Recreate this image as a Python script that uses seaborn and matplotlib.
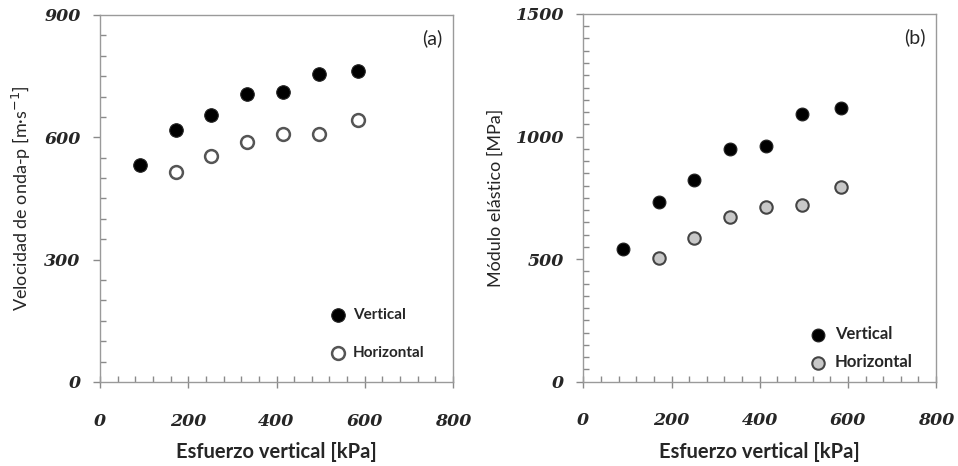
import numpy as np
import pandas as pd
import seaborn as sns
import matplotlib.pyplot as plt
from matplotlib.ticker import MultipleLocator

sns.set_style("white")
plt.rcParams['font.family'] = ['Lato', 'DejaVu Sans']

# data
esfuerzo = [90, 172, 252, 333, 414, 496, 584]
vel_vertical = [532, 619, 654, 706, 710, 755, 762]
vel_horizontal = [np.nan, 514, 554, 589, 609, 609, 642]
mod_vertical = [540, 731, 823, 950, 963, 1091, 1116]
mod_horizontal = [np.nan, 506, 588, 673, 713, 720, 793]

df = pd.DataFrame({'esfuerzo': esfuerzo,
                   'vel_v': vel_vertical, 'vel_h': vel_horizontal,
                   'mod_v': mod_vertical, 'mod_h': mod_horizontal})

fig = plt.figure(figsize=(9.58, 4.66), dpi=100)
ax1 = fig.add_axes([0.1044, 0.1803, 0.3685, 0.7876])
ax2 = fig.add_axes([0.6089, 0.1809, 0.3682, 0.7891])

tickfont = dict(family='DejaVu Serif', weight='bold', style='italic', size=12.5)

def style_axis(ax, ymax, ymajor, ylabel, tag):
    ax.set_xlim(0, 800)
    ax.set_ylim(0, ymax)
    ax.xaxis.set_major_locator(MultipleLocator(200))
    ax.xaxis.set_minor_locator(MultipleLocator(40))
    ax.yaxis.set_major_locator(MultipleLocator(ymajor))
    ax.yaxis.set_minor_locator(MultipleLocator(50))
    for s in ax.spines.values():
        s.set_color('#9a9a9a')
        s.set_linewidth(1.0)
    ax.tick_params(axis='x', which='major', direction='inout', length=8, width=1,
                   color='#8a8a8a', pad=18, bottom=True)
    ax.tick_params(axis='x', which='minor', direction='in', length=4, width=1,
                   color='#8a8a8a', bottom=True)
    ax.tick_params(axis='y', which='major', direction='out', length=5, width=1,
                   color='#8a8a8a', pad=9, left=True)
    ax.tick_params(axis='y', which='minor', direction='in', length=4, width=1,
                   color='#8a8a8a', left=True)
    for lab in ax.get_xticklabels() + ax.get_yticklabels():
        lab.set_fontproperties(tickfont)
    ax.set_xlabel('Esfuerzo vertical [kPa]', fontsize=14.5, fontweight='bold', labelpad=9)
    ax.set_ylabel(ylabel, fontsize=13, labelpad=8)
    ax.text(0.97, 0.96, tag, transform=ax.transAxes, ha='right', va='top', fontsize=14)

# (a)
sns.scatterplot(data=df, x='esfuerzo', y='vel_v', ax=ax1, s=95, color='black',
                edgecolor='#222222', linewidth=0.8, label='Vertical')
sns.scatterplot(data=df, x='esfuerzo', y='vel_h', ax=ax1, s=85, color='white',
                edgecolor='#555555', linewidth=1.8, label='Horizontal')
style_axis(ax1, 900, 300, 'Velocidad de onda-p [m·s$^{-1}$]', '(a)')
leg1 = ax1.legend(loc='lower left', bbox_to_anchor=(0.6, 0.03), frameon=False,
                  handletextpad=0.0, labelspacing=1.6, borderpad=0.2,
                  prop=dict(weight='bold', size=11))

# (b)
sns.scatterplot(data=df, x='esfuerzo', y='mod_v', ax=ax2, s=85, color='black',
                edgecolor='#222222', linewidth=0.8, label='Vertical')
sns.scatterplot(data=df, x='esfuerzo', y='mod_h', ax=ax2, s=80, color='#c8c8c8',
                edgecolor='#444444', linewidth=1.5, label='Horizontal')
style_axis(ax2, 1500, 500, 'Módulo elástico [MPa]', '(b)')
leg2 = ax2.legend(loc='lower left', bbox_to_anchor=(0.585, 0.0), frameon=False,
                  handletextpad=0.0, labelspacing=0.7, borderpad=0.2,
                  prop=dict(weight='bold', size=12))

fig.savefig('out.png', dpi=100)
